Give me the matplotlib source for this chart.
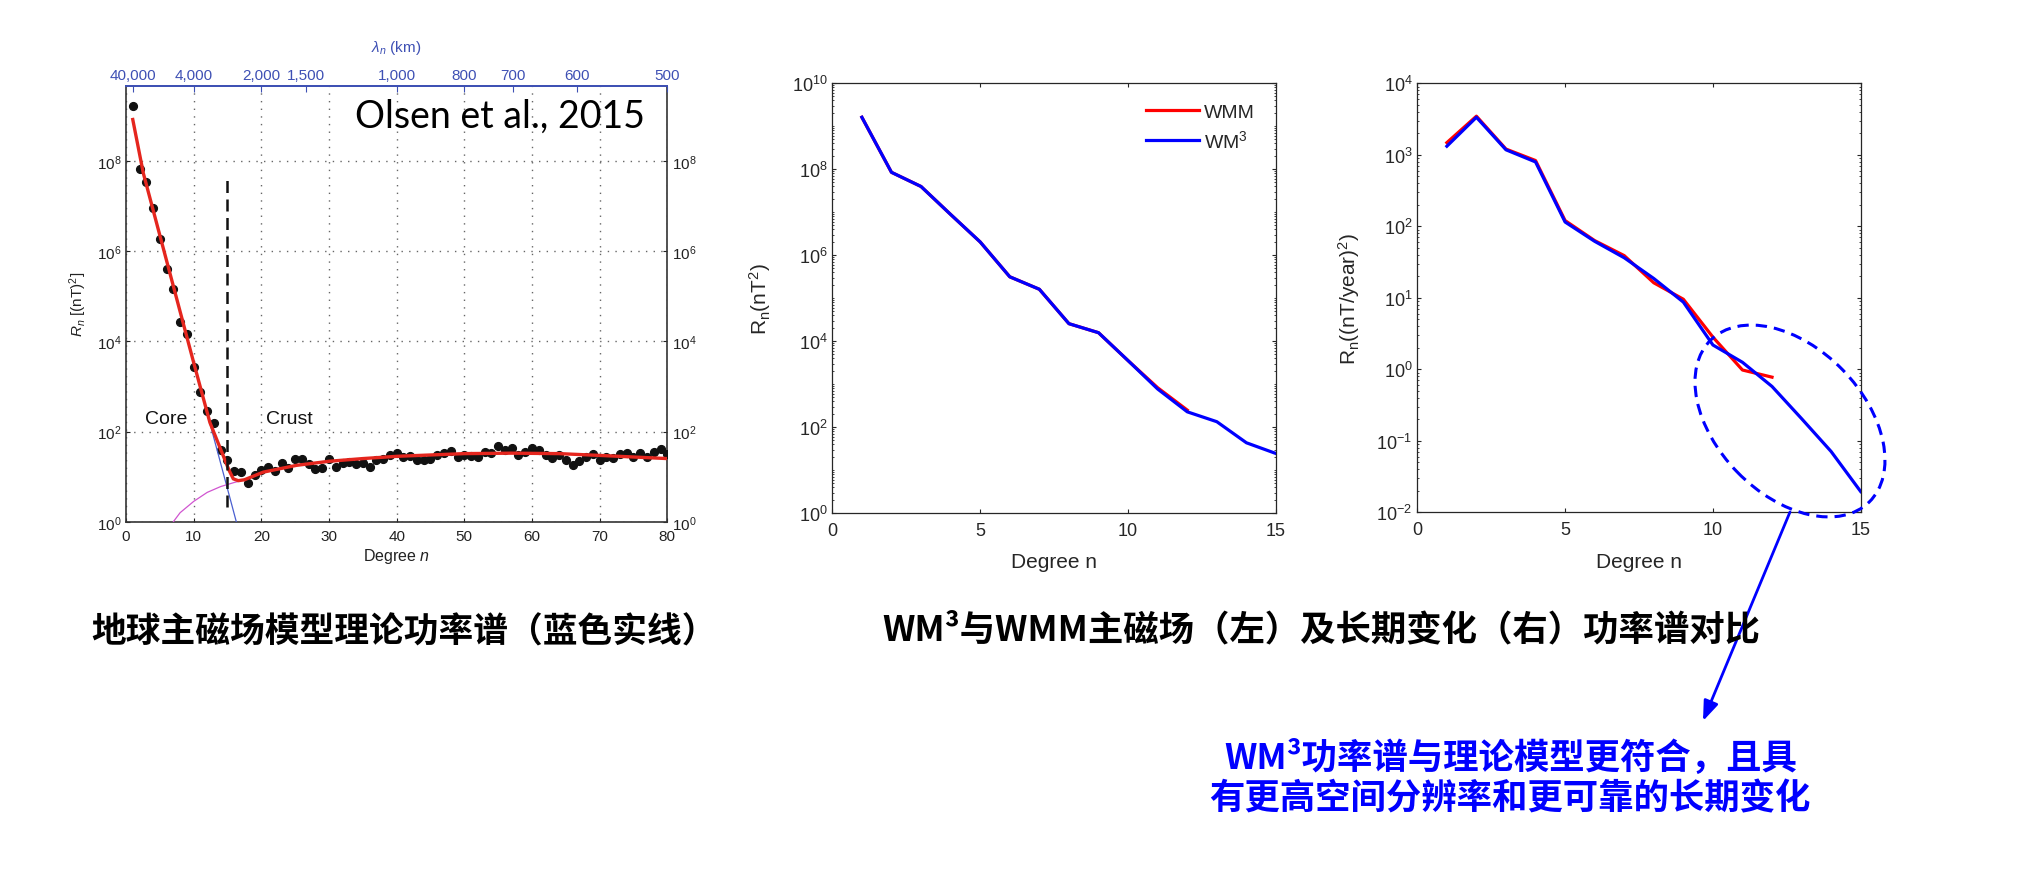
import matplotlib
matplotlib.use("Agg")
import matplotlib.pyplot as plt
import numpy as np
from matplotlib.patches import Ellipse, FancyArrowPatch
from matplotlib.transforms import IdentityTransform
from matplotlib.ticker import FixedLocator, LogLocator, NullLocator, NullFormatter, LogFormatterSciNotation

plt.rcParams['font.family'] = ['Liberation Sans', 'DejaVu Sans']
plt.rcParams['mathtext.fontset'] = 'custom'
plt.rcParams['mathtext.rm'] = 'Liberation Sans'
plt.rcParams['mathtext.it'] = 'Liberation Sans:italic'
plt.rcParams['mathtext.bf'] = 'Liberation Sans:bold'

# ---------------- data ----------------
# Left panel (Olsen et al., 2015): observed spectrum, degrees 1..80 (log10 of R_n)
olsen_degree = list(range(1, 81))
olsen_log10 = [9.23, 7.83, 7.54, 6.96, 6.27, 5.61, 5.17, 4.42, 4.17, 3.44,
               2.88, 2.46, 2.18, 1.59, 1.37, 1.12, 1.10, 0.86, 1.03, 1.14,
               1.21, 1.12, 1.30, 1.19, 1.38, 1.38, 1.28, 1.17, 1.19, 1.40,
               1.21, 1.31, 1.32, 1.28, 1.31, 1.21, 1.36, 1.38, 1.47, 1.53,
               1.43, 1.45, 1.36, 1.36, 1.40, 1.48, 1.52, 1.56, 1.43, 1.47,
               1.45, 1.43, 1.54, 1.52, 1.69, 1.60, 1.63, 1.48, 1.54, 1.63,
               1.58, 1.47, 1.41, 1.48, 1.36, 1.25, 1.34, 1.43, 1.51, 1.36,
               1.43, 1.41, 1.51, 1.53, 1.43, 1.53, 1.43, 1.54, 1.62, 1.51]
# model fit (total), core part and crust part
fit_n = [1, 2.56, 10, 12.4, 14.38, 15.2, 15.86, 16.6, 17.5, 20.3, 25.2, 30, 35, 40, 50, 57, 64, 70, 80]
fit_log10 = [8.92, 7.73, 3.53, 2.2, 1.46, 1.15, 0.95, 0.91, 0.93, 1.10, 1.25, 1.34, 1.40, 1.45, 1.51, 1.52, 1.51, 1.47, 1.40]
core_n = [1, 2.56, 10, 16.3]
core_log10 = [8.92, 7.73, 3.53, 0.0]
crust_n = [7.0, 8, 10, 12, 14, 16, 17.5]
crust_log10 = [0.0, 0.2, 0.45, 0.65, 0.78, 0.87, 0.93]
lambda_km = [40000, 4000, 2000, 1500, 1000, 800, 700, 600, 500]
lambda_labels = ['40,000', '4,000', '2,000', '1,500', '1,000', '800', '700', '600', '500']

# Middle panel: main field power spectrum
main_deg_wm3 = list(range(1, 16))
main_wm3_log10 = [9.21, 7.93, 7.60, 6.95, 6.31, 5.50, 5.21, 4.41, 4.20, 3.55, 2.89, 2.36, 2.13, 1.64, 1.39]
main_deg_wmm = list(range(1, 13))
main_wmm_log10 = [9.21, 7.93, 7.60, 6.95, 6.31, 5.50, 5.21, 4.41, 4.20, 3.55, 2.92, 2.40]

# Right panel: secular variation power spectrum
sv_deg_wm3 = list(range(1, 16))
sv_wm3_log10 = [3.12, 3.525, 3.07, 2.90, 2.06, 1.79, 1.56, 1.27, 0.94, 0.34, 0.098, -0.24, -0.69, -1.15, -1.71]
sv_deg_wmm = list(range(1, 13))
sv_wmm_log10 = [3.17, 3.54, 3.08, 2.92, 2.08, 1.80, 1.59, 1.21, 0.98, 0.45, -0.01, -0.11]

# ---------------- figure ----------------
W, H = 2034, 870
fig = plt.figure(figsize=(W / 100, H / 100), dpi=100)
fig.patch.set_facecolor('white')


def rect(x0, y0, x1, y1):
    return [x0 / W, 1 - y1 / H, (x1 - x0) / W, (y1 - y0) / H]


def pw(v):
    return np.power(10.0, np.asarray(v, dtype=float))


# ===== Left panel =====
TOPBLUE = '#3e50b4'
ax1 = fig.add_axes(rect(126, 86.7, 667.3, 522.7))
ax1.set_yscale('log')
ax1.set_xlim(0, 80)
ax1.set_ylim(1, 10 ** 9.67)
ax1.xaxis.set_major_locator(FixedLocator(list(range(0, 81, 10))))
ax1.yaxis.set_major_locator(FixedLocator([1e0, 1e2, 1e4, 1e6, 1e8]))
ax1.yaxis.set_minor_locator(NullLocator())
ax1.yaxis.set_major_formatter(LogFormatterSciNotation())
ax1.grid(True, which='major', linestyle=(0, (1, 4.5)), color='#666666', lw=1.0)
ax1.tick_params(axis='both', which='both', direction='in', length=3, labelsize=11,
                colors='#222222', right=True, labelright=True, top=False)
ax1.tick_params(axis='x', pad=5)
for s in ['left', 'right', 'bottom']:
    ax1.spines[s].set_color('#333333')
    ax1.spines[s].set_linewidth(1.2)
ax1.spines['top'].set_color(TOPBLUE)
ax1.spines['top'].set_linewidth(1.3)

ax1.plot(olsen_degree, pw(olsen_log10), 'o', color='#111111', ms=5.6, zorder=3)
ax1.plot(core_n, pw(core_log10), color='#4a5fd0', lw=0.9, zorder=3)
ax1.plot(crust_n, pw(crust_log10), color='#d055d0', lw=0.9, zorder=3)
ax1.plot(fit_n, pw(fit_log10), color='#e5261e', lw=2.4, zorder=4, solid_joinstyle='round')
ax1.plot([15, 15], [10 ** 0.32, 10 ** 7.64], color='#111111', lw=1.8, ls=(0, (4.8, 2.6)), zorder=4)
ax1.text(6.0, 10 ** 2.29, 'Core', ha='center', va='center', fontsize=14, color='#111111')
ax1.text(24.2, 10 ** 2.29, 'Crust', ha='center', va='center', fontsize=14, color='#111111')
ax1.text(76.7, 10 ** 8.75, 'Olsen et al., 2015', ha='right', va='baseline',
         fontsize=27, family=['Lato', 'DejaVu Sans'], color='black')

ax1t = ax1.twiny()
ax1t.set_xlim(0, 80)
ax1t.set_xticks([40000 / l for l in lambda_km])
ax1t.set_xticklabels(lambda_labels)
ax1t.tick_params(axis='x', direction='in', length=4, colors=TOPBLUE, labelsize=11, pad=3)
for s in ['left', 'right', 'bottom']:
    ax1t.spines[s].set_visible(False)
ax1t.spines['top'].set_color(TOPBLUE)
ax1t.spines['top'].set_linewidth(1.3)

fig.text(78 / W, 1 - 304 / H, r'$R_n$ [(nT)$^2$]', rotation=90, ha='center', va='center',
         fontsize=11, color='#222222')
fig.text(396.6 / W, 1 - 556.7 / H, r'Degree $n$', ha='center', va='center', fontsize=11.5,
         color='#222222')
fig.text(396.6 / W, 1 - 48 / H, r'$\lambda_n$ (km)', ha='center', va='center', fontsize=11,
         color=TOPBLUE)

# ===== common style for MATLAB panels =====
GRAY = '#262626'


def matlab_style(ax, ymin_exp, ymax_exp, major_step):
    ax.set_yscale('log')
    ax.set_xlim(0, 15)
    ax.set_ylim(10.0 ** ymin_exp, 10.0 ** ymax_exp)
    ax.xaxis.set_major_locator(FixedLocator([0, 5, 10, 15]))
    ax.yaxis.set_major_locator(FixedLocator([10.0 ** e for e in range(ymin_exp, ymax_exp + 1, major_step)]))
    ax.yaxis.set_minor_locator(LogLocator(base=10, subs=tuple(range(1, 10)), numticks=50))
    ax.yaxis.set_minor_formatter(NullFormatter())
    ax.yaxis.set_major_formatter(LogFormatterSciNotation())
    ax.tick_params(axis='both', which='major', direction='in', length=3.2, width=0.8,
                   colors=GRAY, labelsize=13, top=True, right=True)
    ax.tick_params(axis='both', which='minor', direction='in', length=1.7, width=0.6,
                   colors=GRAY, top=True, right=True)
    ax.tick_params(axis='x', pad=6)
    for s in ax.spines.values():
        s.set_color(GRAY)
        s.set_linewidth(0.9)


# ===== Middle panel =====
ax2 = fig.add_axes(rect(832.3, 84.3, 1276, 514.3))
matlab_style(ax2, 0, 10, 2)
ax2.plot(main_deg_wmm, pw(main_wmm_log10), color='#ff0000', lw=2.3, label='WMM')
ax2.plot(main_deg_wm3, pw(main_wm3_log10), color='#0000ff', lw=2.3, label=r'WM$^3$')
ax2.legend(loc='upper left', bbox_to_anchor=(1146 / W, 1 - 104 / H), bbox_transform=fig.transFigure,
           frameon=False, fontsize=14, handlelength=2.75, handletextpad=0.25, labelspacing=0.42,
           borderpad=0, borderaxespad=0, labelcolor=GRAY)
fig.text(1054 / W, 1 - 563 / H, 'Degree n', ha='center', va='center', fontsize=15, color=GRAY)
fig.text(759.6 / W, 1 - 299 / H, r'$\mathregular{R_n(nT^2)}$', rotation=90, ha='center', va='center',
         fontsize=15, color=GRAY)

# ===== Right panel =====
ax3 = fig.add_axes(rect(1417.3, 84.3, 1860.7, 513.3))
matlab_style(ax3, -2, 4, 1)
ax3.plot(sv_deg_wmm, pw(sv_wmm_log10), color='#ff0000', lw=2.3)
ax3.plot(sv_deg_wm3, pw(sv_wm3_log10), color='#0000ff', lw=2.3)
fig.text(1639 / W, 1 - 562 / H, 'Degree n', ha='center', va='center', fontsize=15, color=GRAY)
fig.text(1349 / W, 1 - 299 / H, r'$\mathregular{R_n((nT/year)^2)}$', rotation=90, ha='center',
         va='center', fontsize=15, color=GRAY)

# dashed ellipse highlighting high degrees and arrow
ell = Ellipse((1790, H - 422), width=2 * 113.3, height=2 * 73.4, angle=-45.7, fill=False,
              edgecolor='#0000ff', lw=2.2, ls=(0, (3.7, 2.3)), transform=IdentityTransform())
fig.add_artist(ell)
arr = FancyArrowPatch((1790, H - 513), (1703, H - 722), arrowstyle='-|>,head_length=0.8,head_width=0.3',
                      mutation_scale=15, lw=2, color='#0000ff', shrinkA=0, shrinkB=0,
                      transform=IdentityTransform())
fig.add_artist(arr)

# ===== captions =====
CJK = ['Noto Sans CJK SC', 'DejaVu Sans']
fig.text(404 / W, 1 - 632 / H, '地球主磁场模型理论功率谱（蓝色实线）', ha='center', va='center',
         fontsize=25, fontweight='bold', family=CJK, color='black')
fig.text(1321 / W, 1 - 630 / H, 'WM³与WMM主磁场（左）及长期变化（右）功率谱对比', ha='center', va='center',
         fontsize=25.5, fontweight='bold', family=CJK, color='black')
fig.text(1511 / W, 1 - 758 / H, 'WM³功率谱与理论模型更符合，且具', ha='center', va='center',
         fontsize=25.5, fontweight='bold', family=CJK, color='#0000ff')
fig.text(1510 / W, 1 - 799 / H, '有更高空间分辨率和更可靠的长期变化', ha='center', va='center',
         fontsize=25.5, fontweight='bold', family=CJK, color='#0000ff')

fig.savefig('out.png', dpi=100, facecolor='white')
